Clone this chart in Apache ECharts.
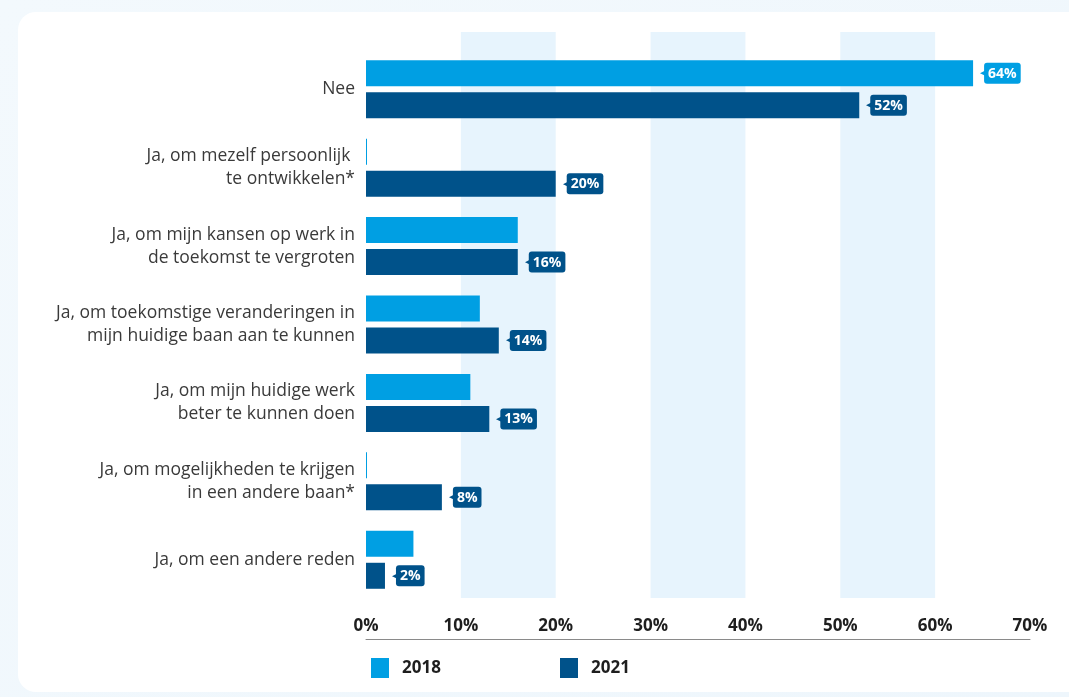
<!DOCTYPE html>
<html>
<head>
<meta charset="utf-8">
<script src="https://cdn.jsdelivr.net/npm/echarts@6/dist/echarts.min.js"></script>
<style>
  html, body { margin: 0; padding: 0; width: 1069px; height: 697px; overflow: hidden; }
  body { background: linear-gradient(135deg, #f3f9fd, #eef6fc); position: relative; }
  #card { position: absolute; left: 18px; top: 12px; width: 1070px; height: 680px; background: #fff; border-radius: 18px; }
  #chart { position: absolute; left: 0; top: 0; width: 1069px; height: 697px; }
</style>
</head>
<body>
<div id="card"></div>
<div id="chart"></div>
<script>
// answers (top to bottom)
const categories = [
    'Nee',
    'Ja, om mezelf persoonlijk \nte ontwikkelen*',
    'Ja, om mijn kansen op werk in\nde toekomst te vergroten',
    'Ja, om toekomstige veranderingen in\nmijn huidige baan aan te kunnen',
    'Ja, om mijn huidige werk\nbeter te kunnen doen',
    'Ja, om mogelijkheden te krijgen\nin een andere baan*',
    'Ja, om een andere reden'
];
const values2018 = [64, 0, 16, 12, 11, 0, 5];
const values2021 = [52, 20, 16, 14, 13, 8, 2];
const labelled2018 = [0]; // only "Nee" carries a label for 2018

const light = '#009fe3';
const dark = '#00528a';

function tagLabel(color) {
    return {
        show: true,
        position: 'right',
        distance: 7,
        formatter: p => '{a|◀}{b|' + p.value + '%}',
        rich: {
            a: { color: color, fontSize: 7, padding: [0, -1, 0, 0] },
            b: {
                color: '#fff', backgroundColor: color, borderRadius: 3,
                fontFamily: 'Open Sans', fontWeight: 'bold', fontSize: 14,
                padding: [4, 4, 3, 4]
            }
        }
    };
}

const chart = echarts.init(document.getElementById('chart'), null, { renderer: 'canvas' });

const option = {
    backgroundColor: 'transparent',
    animation: false,
    grid: [
        // background bands
        { left: 366, right: 39, top: 32, bottom: 99 },
        // bars
        { left: 366, right: 39, top: 50, bottom: 98 }
    ],
    xAxis: [{
        gridIndex: 0, type: 'value', min: 0, max: 70, interval: 10,
        axisLine: { show: false }, axisTick: { show: false }, axisLabel: { show: false },
        splitLine: { show: false },
        splitArea: { show: true, areaStyle: { color: ['rgba(255,255,255,0)', '#e7f4fd'] } }
    }, {
        gridIndex: 1, type: 'value', min: 0, max: 70, interval: 10,
        offset: 40,
        axisLine: { show: true, lineStyle: { color: '#8a8a8a', width: 1 } },
        axisTick: { show: false },
        splitLine: { show: false },
        axisLabel: {
            inside: true, margin: 4, formatter: '{value}%',
            color: '#1e1e1e', fontFamily: 'Open Sans', fontWeight: 'bold', fontSize: 17
        }
    }],
    yAxis: [{
        gridIndex: 0, type: 'value', show: false
    }, {
        gridIndex: 1, type: 'category', inverse: true, data: categories,
        axisLine: { show: false }, axisTick: { show: false },
        axisLabel: {
            margin: 11, color: '#3a3a3a', fontFamily: 'Open Sans', fontSize: 17.5,
            lineHeight: 23, align: 'right', padding: [4, 0, 0, 0]
        }
    }],
    legend: [{
        data: ['2018'], left: 366, top: 653, icon: 'rect', itemWidth: 18, itemHeight: 20,
        textStyle: { color: '#1e1e1e', fontFamily: 'Open Sans', fontWeight: 'bold', fontSize: 17, padding: [0, 0, 0, 8] }
    }, {
        data: ['2021'], left: 555, top: 653, icon: 'rect', itemWidth: 18, itemHeight: 20,
        textStyle: { color: '#1e1e1e', fontFamily: 'Open Sans', fontWeight: 'bold', fontSize: 17, padding: [0, 0, 0, 8] }
    }],
    series: [{
        name: '2018', type: 'bar', xAxisIndex: 1, yAxisIndex: 1,
        barWidth: 26, barGap: '23%', barMinHeight: 1,
        itemStyle: { color: light },
        data: values2018.map((v, i) => labelled2018.includes(i)
            ? { value: v, label: tagLabel(light) }
            : v)
    }, {
        name: '2021', type: 'bar', xAxisIndex: 1, yAxisIndex: 1,
        barWidth: 26, barGap: '23%',
        itemStyle: { color: dark },
        label: tagLabel(dark),
        data: values2021
    }]
};

chart.setOption(option);
window.addEventListener('resize', () => chart.resize());
</script>
</body>
</html>
